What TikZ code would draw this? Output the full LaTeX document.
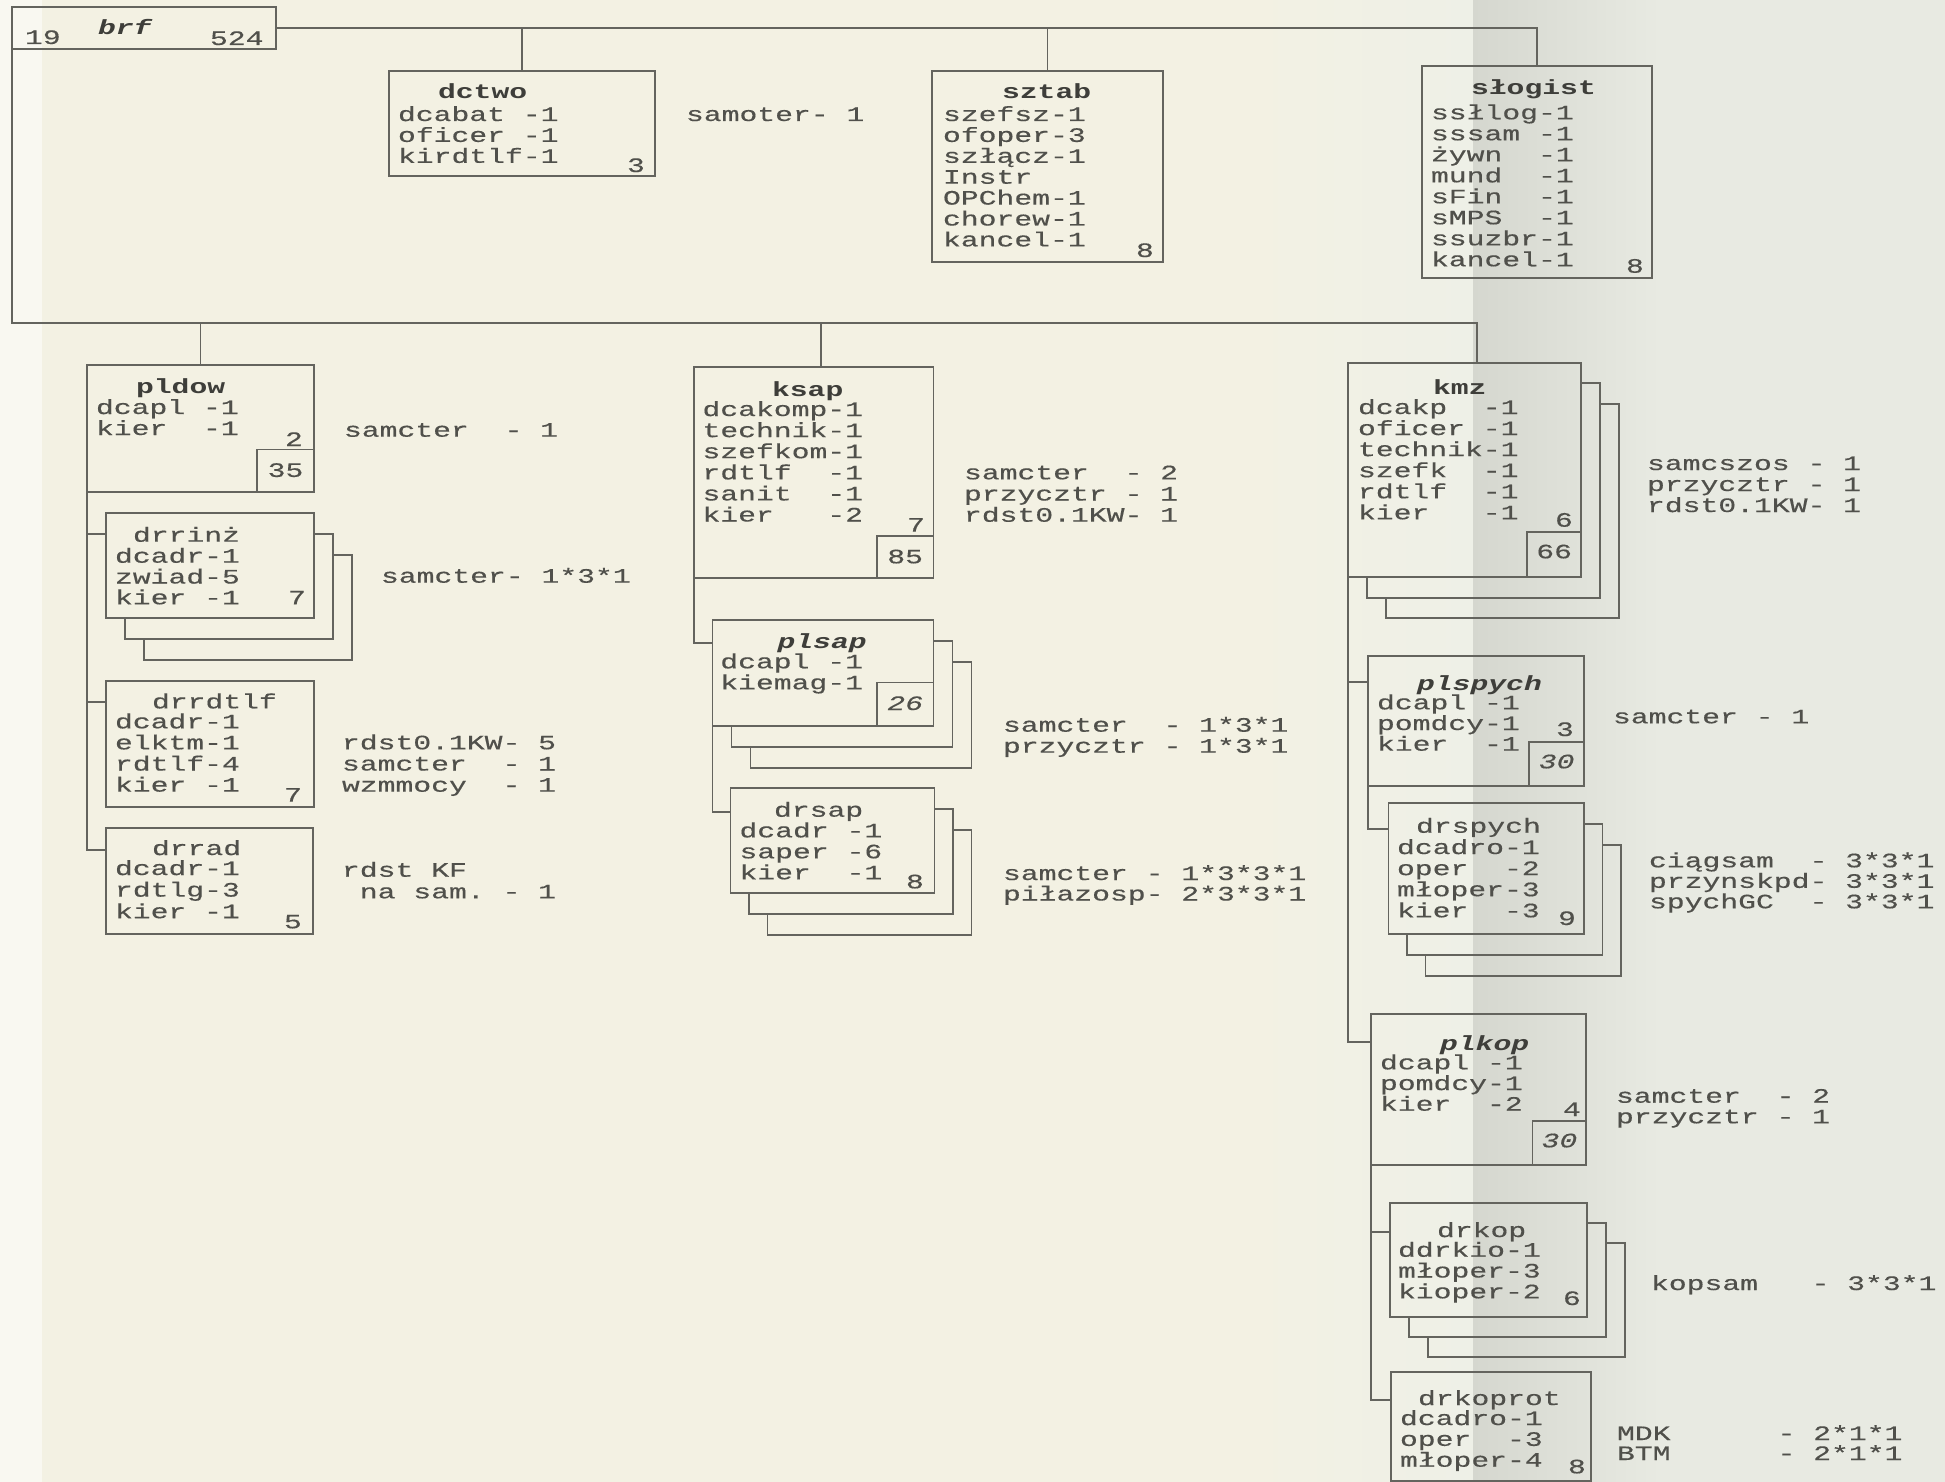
\documentclass[tikz,border=0pt]{standalone}
\usepackage{fontspec}
\newfontfamily\tw[FakeStretch=1.45, UprightFeatures={FakeBold=0.4}, ItalicFeatures={FakeBold=0.4}]{Liberation Mono}
\usetikzlibrary{calc}
\definecolor{paperL}{HTML}{F3F1E3}
\definecolor{paperE}{HTML}{F9F8F1}
\definecolor{paperM}{HTML}{EEF0E7}
\definecolor{paperR}{HTML}{E8EAE2}
\definecolor{foldc}{HTML}{D5D7CF}
\definecolor{ink}{HTML}{50504B}
\definecolor{inkd}{HTML}{3E3E3A}
\definecolor{rulec}{HTML}{64645E}
\tikzset{
 tx/.style={font=\tw\fontsize{20.5}{21}\selectfont, inner sep=0pt, outer sep=0pt, text=ink, anchor=base west},
 ttl/.style={tx, font=\tw\bfseries\fontsize{20.5}{21}\selectfont, text=inkd},
 ttli/.style={tx, font=\tw\bfseries\itshape\fontsize{20.5}{21}\selectfont, text=inkd},
 txi/.style={tx, font=\tw\itshape\fontsize{20.5}{21}\selectfont},
 ln/.style={draw=rulec, line width=1.7pt},
 bx/.style={ln, rectangle, inner sep=0pt, outer sep=0pt, anchor=north west},
}
\newcommand\tlines[5]{%
 \foreach \t [count=\i] in {#5} {\node[tx] (#1-\i) at (#2,{#3+(\i-1)*#4}) {\t};}}
\newcommand\shd[3]{%
 \draw[ln] ($(#1.north east)+(0,#3)$) -- ($(#1.north east)+(#2,#3)$) -- ($(#1.south east)+(#2,#3)$) -- ($(#1.south west)+(#2,#3)$) -- ($(#1.south west)+(#2,0)$);
 \draw[ln] ($(#1.north east)+(#2,2*#3)$) -- ($(#1.north east)+(2*#2,2*#3)$) -- ($(#1.south east)+(2*#2,2*#3)$) -- ($(#1.south west)+(2*#2,2*#3)$) -- ($(#1.south west)+(2*#2,#3)$);}
\begin{document}
\begin{tikzpicture}[x=1pt,y=-1pt]
\fill[paperL] (0,0) rectangle (1945,1482);
\fill[paperE] (0,0) rectangle (42,1482);
\shade[left color=paperL, right color=paperM] (1250,0) rectangle (1473,1482);
\fill[paperR] (1473,0) rectangle (1945,1482);
\shade[left color=foldc, right color=paperR] (1473,0) rectangle (1660,1482);
\useasboundingbox (0,0) rectangle (1945,1482);

% ---- boxes ----
\node[bx, minimum width=264pt, minimum height=42pt] (brf) at (12,7) {};
\node[bx, minimum width=266pt, minimum height=105pt] (dctwo) at (389,71) {};
\node[bx, minimum width=231pt, minimum height=191pt] (sztab) at (932,71) {};
\node[bx, minimum width=230pt, minimum height=212pt] (slog) at (1422,66) {};

\node[bx, minimum width=227pt, minimum height=127pt] (pldow) at (87,365) {};
\node[bx, anchor=south east, minimum width=57pt, minimum height=42.5pt] (p35) at (pldow.south east) {};
\node[bx, minimum width=208pt, minimum height=105pt] (drrinz) at (105.8,512.7) {};
\node[bx, minimum width=208pt, minimum height=126pt] (drrdtlf) at (105.8,680.7) {};
\node[bx, minimum width=207pt, minimum height=105.7pt] (drrad) at (105.8,828.3) {};

\node[bx, minimum width=239.8pt, minimum height=211pt] (ksap) at (693.7,367.3) {};
\node[bx, anchor=south east, minimum width=56.7pt, minimum height=42.3pt] (k85) at (ksap.south east) {};
\node[bx, minimum width=221pt, minimum height=106pt] (plsap) at (712.5,620) {};
\node[bx, anchor=south east, minimum width=56.7pt, minimum height=43.5pt] (p26) at (plsap.south east) {};
\node[bx, minimum width=204pt, minimum height=105pt] (drsap) at (730.4,788.3) {};

\node[bx, minimum width=233pt, minimum height=214.6pt] (kmz) at (1348,362.7) {};
\node[bx, anchor=south east, minimum width=53.7pt, minimum height=45.6pt] (k66) at (kmz.south east) {};
\node[bx, minimum width=216.1pt, minimum height=130pt] (plspych) at (1367.8,656) {};
\node[bx, anchor=south east, minimum width=54.6pt, minimum height=44.3pt] (s30) at (plspych.south east) {};
\node[bx, minimum width=195.3pt, minimum height=131.3pt] (drspych) at (1388.6,802.7) {};
\node[bx, minimum width=215.3pt, minimum height=151pt] (plkop) at (1371,1014) {};
\node[bx, anchor=south east, minimum width=53.8pt, minimum height=44.3pt] (k30) at (plkop.south east) {};
\node[bx, minimum width=197.2pt, minimum height=113.4pt] (drkop) at (1389.8,1203.3) {};
\node[bx, minimum width=200pt, minimum height=109.5pt] (drkoprot) at (1391,1371.7) {};

% ---- stacked copies ----
\shd{drrinz}{19}{21}
\shd{plsap}{19}{21}
\shd{drsap}{18.5}{21}
\shd{kmz}{19}{20.5}
\shd{drspych}{18.5}{21}
\shd{drkop}{19}{20}

% ---- connectors ----
\coordinate (fb) at (12,323);
\coordinate (katt) at ($(ksap.north west)+(127,0)$);
\coordinate (zatt) at ($(kmz.north west)+(129,0)$);
\draw[ln] (brf.east) -| (slog.north);
\draw[ln] (dctwo.north) -- (dctwo.north |- brf.east);
\draw[ln] (sztab.north) -- (sztab.north |- brf.east);
\draw[ln] (brf.north west) -- (brf.north west |- fb) -| (zatt);
\draw[ln] (pldow.north) -- (pldow.north |- fb);
\draw[ln] (katt) -- (katt |- fb);
\draw[ln] (pldow.south west) |- ($(drrinz.north west)+(0,21)$);
\draw[ln] (pldow.south west) |- ($(drrdtlf.north west)+(0,21)$);
\draw[ln] (pldow.south west) |- ($(drrad.north west)+(0,21.7)$);
\draw[ln] (ksap.south west) |- ($(plsap.north west)+(0,23.3)$);
\draw[ln] (plsap.south west) |- ($(drsap.north west)+(0,23.4)$);
\draw[ln] (kmz.south west) |- ($(plspych.north west)+(0,25.7)$);
\draw[ln] (kmz.south west) |- ($(plkop.north west)+(0,27.7)$);
\draw[ln] (plspych.south west) |- ($(drspych.north west)+(0,26.6)$);
\draw[ln] (plkop.south west) |- ($(drkop.north west)+(0,28.4)$);
\draw[ln] (plkop.south west) |- ($(drkoprot.north west)+(0,28.3)$);

% ---- texts: top ----
\node[tx] (n19) at (25,44) {19};
\node[ttli] (brft) at (98,35) {brf};
\node[tx] (n524) at (210,45) {524};

\node[ttl] (dctwot) at (438,99) {dctwo};
\tlines{dctwol}{398}{121}{20.9}{dcabat~-1,oficer~-1,kirdtlf-1}
\node[tx] (dctwon) at (627,172) {3};
\node[tx] (samoter) at (686,121) {samoter-~1};

\node[ttl] (sztabt) at (1002,99) {sztab};
\tlines{sztabl}{943}{121}{20.9}{szefsz-1,ofoper-3,szłącz-1,Instr,OPChem-1,chorew-1,kancel-1}
\node[tx] (sztabn) at (1136,257) {8};

\node[ttl] (slogt) at (1471,95) {słogist};
\tlines{slogl}{1431}{119.3}{21}{ssłlog-1,sssam~-1,żywn~~-1,mund~~-1,sFin~~-1,sMPS~~-1,ssuzbr-1,kancel-1}
\node[tx] (slogn) at (1626,272.7) {8};

% ---- left column ----
\node[ttl] (pldowt) at (136,393.3) {pldow};
\tlines{pldowl}{96}{414}{21}{dcapl~-1,kier~~-1}
\node[tx] (pldown) at (285,446) {2};
\node[tx, anchor=base] (t35) at ($(p35.north)+(0,27.4)$) {35};
\node[tx] (pldowr) at (344,436.7) {samcter~~-~1};

\node[tx] (drrinzt) at (133,541.7) {drrinż};
\tlines{drrinzl}{115}{562.7}{20.8}{dcadr-1,zwiad-5,kier~-1}
\node[tx] (drrinzn) at (288,604.3) {7};
\node[tx] (drrinzr) at (381,582.7) {samcter-~1*3*1};

\node[tx] (drrdtlft) at (152,708.3) {drrdtlf};
\tlines{drrdtlfl}{115}{728.3}{21.1}{dcadr-1,elktm-1,rdtlf-4,kier~-1}
\node[tx] (drrdtlfn) at (284,801.7) {7};
\tlines{drrdtlfr}{342}{749.3}{21.2}{rdst0.1KW-~5,samcter~~-~1,wzmmocy~~-~1}

\node[tx] (drradt) at (152,855) {drrad};
\tlines{drradl}{115}{875}{21.6}{dcadr-1,rdtlg-3,kier~-1}
\node[tx] (drradn) at (284,928.3) {5};
\tlines{drradr}{342}{876.7}{21.6}{rdst~KF,~na~sam.~-~1}

% ---- middle column ----
\node[ttl] (ksapt) at (772,396.7) {ksap};
\tlines{ksapl}{702.5}{416}{21.1}{dcakomp-1,technik-1,szefkom-1,rdtlf~~-1,sanit~~-1,kier~~~-2}
\node[tx] (ksapn) at (907,531.7) {7};
\node[tx, anchor=base] (t85) at ($(k85.north)+(0,27.3)$) {85};
\tlines{ksapr}{964}{479.3}{21.2}{samcter~~-~2,przycztr~-~1,rdst0.1KW-~1}

\node[ttli] (plsapt) at (777.5,648.3) {plsap};
\tlines{plsapl}{720.3}{668.3}{21}{dcapl~-1,kiemag-1}
\node[txi, anchor=base] (t26) at ($(p26.north)+(0,27.5)$) {26};
\tlines{plsapr}{1003}{731.7}{21}{samcter~~-~1*3*1,przycztr~-~1*3*1}

\node[tx] (drsapt) at (774,816.7) {drsap};
\tlines{drsapl}{739.5}{837.3}{21}{dcadr~-1,saper~-6,kier~~-1}
\node[tx] (drsapn) at (906,888.3) {8};
\tlines{drsapr}{1003}{880}{20.5}{samcter~-~1*3*3*1,piłazosp-~2*3*3*1}

% ---- right column ----
\node[ttl] (kmzt) at (1433,394) {kmz};
\tlines{kmzl}{1358}{414}{21.06}{dcakp~~-1,oficer~-1,technik-1,szefk~~-1,rdtlf~~-1,kier~~~-1}
\node[tx] (kmzn) at (1555,526.7) {6};
\node[tx, anchor=base] (t66) at ($(k66.north)+(0,26.6)$) {66};
\tlines{kmzr}{1647}{470}{21}{samcszos~-~1,przycztr~-~1,rdst0.1KW-~1}

\node[ttli] (plspycht) at (1417,690) {plspych};
\tlines{plspychl}{1377}{709.3}{20.7}{dcapl~-1,pomdcy-1,kier~~-1}
\node[tx] (plspychn) at (1556,736) {3};
\node[txi, anchor=base] (t30a) at ($(s30.north)+(0,26.6)$) {30};
\node[tx] (plspychr) at (1613,723.3) {samcter~-~1};

\node[tx] (drspycht) at (1416,832.7) {drspych};
\tlines{drspychl}{1397}{854}{21.1}{dcadro-1,oper~~-2,młoper-3,kier~~-3}
\node[tx] (drspychn) at (1558,925) {9};
\tlines{drspychr}{1649}{867.3}{20.5}{ciągsam~~-~3*3*1,przynskpd-~3*3*1,spychGC~~-~3*3*1}

\node[ttli] (plkopt) at (1440,1050) {plkop};
\tlines{plkopl}{1380}{1069.3}{20.7}{dcapl~-1,pomdcy-1,kier~~-2}
\node[tx] (plkopn) at (1563,1116) {4};
\node[txi, anchor=base] (t30b) at ($(k30.north)+(0,26.6)$) {30};
\tlines{plkopr}{1616}{1102.7}{20.6}{samcter~~-~2,przycztr~-~1}

\node[tx] (drkopt) at (1437,1237) {drkop};
\tlines{drkopl}{1398}{1256.7}{20.8}{ddrkio-1,młoper-3,kioper-2}
\node[tx] (drkopn) at (1563,1305) {6};
\node[tx] (drkopr) at (1651,1290) {kopsam~~~-~3*3*1};

\node[tx] (drkoprott) at (1418,1405) {drkoprot};
\tlines{drkoprotl}{1400}{1425}{20.85}{dcadro-1,oper~~-3,młoper-4}
\node[tx] (drkoprotn) at (1568,1473.3) {8};
\tlines{drkoprotr}{1617}{1440}{20}{MDK~~~~~~-~2*1*1,BTM~~~~~~-~2*1*1}
\end{tikzpicture}
\end{document}
